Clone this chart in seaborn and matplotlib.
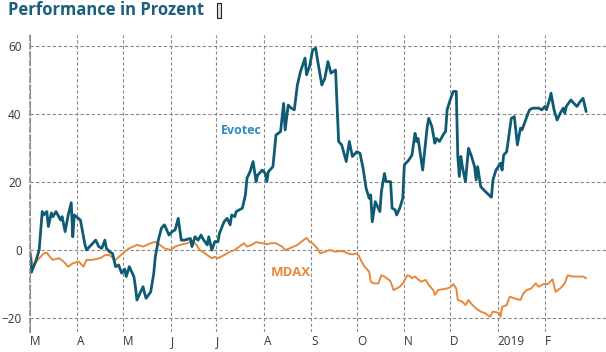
import pandas as pd
import numpy as np
import seaborn as sns
import matplotlib
matplotlib.use("Agg")
import matplotlib.pyplot as plt
from matplotlib.patches import Rectangle

# days after 2018-03-01 and performance in percent
evotec_days = [0, 1, 4, 6, 8, 9, 11, 12, 14, 15, 17, 20, 21, 23, 25, 27, 28, 29, 33, 35,
               36, 37, 39, 43, 45, 47, 49, 50, 52, 54, 56, 58, 60, 62, 63, 65, 68, 69, 70, 72,
               74, 75, 76, 79, 81, 82, 84, 86, 88, 91, 93, 95, 97, 99, 101, 105, 106, 108, 110, 112,
               113, 116, 117, 119, 121, 123, 124, 127, 129, 131, 132, 134, 135, 139, 141, 142, 144, 146, 148, 149,
               152, 154, 155, 156, 159, 161, 164, 166, 167, 169, 171, 173, 175, 177, 180, 181, 183, 185, 187, 188,
               191, 193, 195, 197, 200, 202, 204, 207, 209, 211, 214, 216, 218, 220, 222, 223, 224, 226, 229, 230,
               232, 233, 236, 237, 239, 240, 242, 244, 245, 248, 250, 252, 253, 254, 256, 257, 260, 261, 263, 265,
               266, 268, 271, 272, 273, 275, 277, 279, 280, 281, 282, 283, 285, 287, 289, 291, 292, 293, 295, 298,
               302, 303, 305, 308, 309, 310, 312, 314, 315, 317, 319, 321, 322, 324, 326, 327, 329, 333, 335, 337,
               338, 340, 341, 343, 345, 347, 349, 350, 351, 354, 356, 358, 360, 362, 364]
evotec = [-1, -6.5, -3, 0, 11.3, 10.3, 11.3, 6.9, 10.9, 9.8, 11.3, 8.8, 9.8, 5.4, 10.3, 13.9, 3.9, 10.3, 8.8, 3.9,
          1.5, 0, 1, 2.9, 1, 0.5, 2.9, 0.5, -0.5, -1, -4.9, -4.4, -6.8, -5.6, -7.8, -4.9, -7.8, -10.8, -14.7, -12.7,
          -10.8, -12.7, -14.2, -12.3, -6.9, -2, 2.9, 6.4, 7.4, 4.4, 5.4, 5.9, 9.3, 2.9, 2.9, 3.4, 1, 3.9, 2.9, 4.4,
          3.4, 1.5, 3.9, 0, 2.5, 2.4, 4.9, 8.3, 9.3, 7.4, 10.3, 9.8, 11.3, 12.3, 16.2, 21.1, 23, 26, 20.1, 22,
          23.5, 22.5, 20.1, 23, 24.5, 33.8, 34.8, 43.1, 35.3, 42.6, 41.7, 41.2, 48.5, 52.4, 56.4, 51.5, 54, 58.8, 59.3, 56.4,
          48.5, 50.5, 55.4, 52, 52.9, 31.9, 30.9, 26, 31.9, 27.5, 28.9, 28.4, 24, 18.1, 15.2, 16.2, 8.3, 14.2, 11.3, 17.2,
          22.5, 20.1, 20.1, 12.3, 11.8, 10.3, 12.3, 15.2, 25, 26.5, 27.9, 34.3, 31.9, 32.8, 26.5, 23.5, 36.3, 38.7, 36.3, 31.4,
          32.8, 31.9, 34.3, 34.8, 41.2, 44.1, 46.6, 46.6, 27.5, 21.6, 27.5, 24.5, 20.1, 29.9, 27.5, 24.5, 20.6, 24.5, 18.6, 17.2,
          15.5, 20.6, 23.5, 25.5, 23.5, 27.9, 28.9, 35.3, 38.7, 39.2, 30.9, 35.8, 35.3, 37.7, 40.2, 41.2, 41.7, 41.7, 41.2, 42.2,
          41.2, 44.1, 46.1, 41.2, 38.2, 40.2, 41.7, 40.2, 42.2, 44.1, 43.1, 42.2, 43.6, 44.6, 40.7]

mdax_days = [0, 2, 5, 9, 11, 13, 15, 19, 22, 25, 28, 32, 35, 37, 41, 46, 49, 52, 56, 59,
             62, 65, 70, 74, 79, 82, 85, 88, 92, 95, 98, 103, 106, 109, 111, 113, 116, 119, 121, 123,
             127, 131, 134, 137, 140, 142, 145, 148, 152, 155, 158, 161, 165, 167, 170, 175, 179, 181, 183, 185,
             188, 190, 193, 196, 200, 203, 206, 208, 211, 213, 215, 217, 219, 222, 223, 225, 228, 230, 232, 235,
             236, 238, 240, 242, 244, 247, 249, 250, 252, 254, 256, 259, 261, 264, 265, 267, 269, 273, 275, 277,
             279, 280, 283, 285, 287, 289, 292, 295, 298, 301, 303, 307, 308, 309, 312, 314, 317, 321, 323, 325,
             328, 331, 333, 336, 339, 342, 344, 347, 350, 352, 355, 359, 362, 364]
mdax = [0, -4.9, -2.9, -1, -0.8, -2, -2.9, -2.4, -3.4, -4.9, -3.9, -3.4, -4.9, -2.9, -2.9, -2.4, -1.5, -1.5, -2.9, -1.7,
        -0.5, 0.5, 1.5, 1, 2, 2.4, 1.5, 0.5, 0, 1, 1.5, 2, 2.7, 1.5, 0, -0.5, -1.5, -2.4, -2, -2.4,
        -1.5, -0.5, 0, 1, 2, 1, 1.5, 2.3, 2, 1.7, 2, 2, 1, 0, 0.5, 1.5, 2.9, 3.6, 2.4, 2,
        0.5, -1, -0.5, 0, -0.5, -0.3, -0.5, -1, -1.3, -1, -1.5, -3.4, -4.9, -6.4, -9.3, -9.8, -9.8, -7.4, -7.8, -8.8,
        -9.3, -11.8, -11.3, -10.8, -9.8, -7.4, -7.8, -8.3, -7.8, -8.6, -9.3, -8.8, -10.3, -11.8, -13.2, -11.8, -11.6, -11.3, -11, -10,
        -11.3, -14.7, -15.2, -16.2, -14.7, -15.9, -17.2, -18.1, -18.6, -19.6, -18.1, -18.5, -19.6, -16.7, -16.2, -13.7, -14.2, -14.7, -12.7, -11.8,
        -11.3, -9.8, -10.8, -10, -10, -8.6, -12.3, -11.3, -9.8, -7.4, -7.8, -7.8, -7.8, -8.3]

month_labels = ["M", "A", "M", "J", "J", "A", "S", "O", "N", "D", "2019", "F"]
y_ticks = [-20, 0, 20, 40, 60]

start = pd.Timestamp("2018-03-01")
df_evo = pd.DataFrame({"date": start + pd.to_timedelta(evotec_days, unit="D"), "perf": evotec})
df_mdax = pd.DataFrame({"date": start + pd.to_timedelta(mdax_days, unit="D"), "perf": mdax})

sns.set_style("white")
plt.rcParams["font.family"] = ["Open Sans", "DejaVu Sans"]

fig = plt.figure(figsize=(6.06, 3.52), dpi=100)
ax = fig.add_axes([30 / 606, 1 - 332 / 352, 576 / 606, 297 / 352])

grid_kw = dict(color="#8a8a8a", lw=0.8, ls=(0, (3, 2)))
sns.lineplot(data=df_mdax, x="date", y="perf", ax=ax, color="#e8883a", lw=1.4,
             estimator=None, sort=False)
sns.lineplot(data=df_evo, x="date", y="perf", ax=ax, color="#0f5b74", lw=2.0,
             estimator=None, sort=False)

ax.set_xlim(start, start + pd.Timedelta(days=377))
ax.set_ylim(-24.1, 63.2)
month_starts = pd.date_range("2018-03-01", periods=12, freq="MS")
ax.set_xticks(month_starts)
ax.set_xticklabels(month_labels)
for lbl in ax.get_xticklabels():
    lbl.set_ha("left")
ax.set_yticks(y_ticks)
ax.grid(True, **grid_kw)
ax.set_axisbelow(True)
ax.set_xlabel("")
ax.set_ylabel("")

for s in ["top", "right", "bottom"]:
    ax.spines[s].set_visible(False)
ax.spines["left"].set_color("#8a8a8a")
ax.spines["left"].set_linestyle((0, (3, 2)))
ax.spines["left"].set_linewidth(1.2)

ax.tick_params(axis="x", length=6, width=0.8, color="#8a8a8a", pad=-3.5,
               labelsize=8.5, labelcolor="#333333")
ax.tick_params(axis="y", length=0, pad=6, labelsize=8.5, labelcolor="#333333")

ax.text(start + pd.Timedelta(days=138), 35, "Evotec", color="#2a8cc0",
        fontsize=9, fontweight="bold", ha="center", va="center")
ax.text(start + pd.Timedelta(days=171), -6.5, "MDAX", color="#e8883a",
        fontsize=9.5, fontweight="bold", ha="center", va="center")

fig.text(8 / 606, 1 - 1 / 352, "Performance in Prozent", color="#1b5f7c",
         fontsize=12, fontweight="bold", ha="left", va="top")
fig.patches.append(Rectangle((217 / 606, 1 - 18 / 352), 4 / 606, 15 / 352,
                             transform=fig.transFigure, fc="#dddddd", ec="#222222", lw=0.8))

fig.savefig("out.png", dpi=100)
